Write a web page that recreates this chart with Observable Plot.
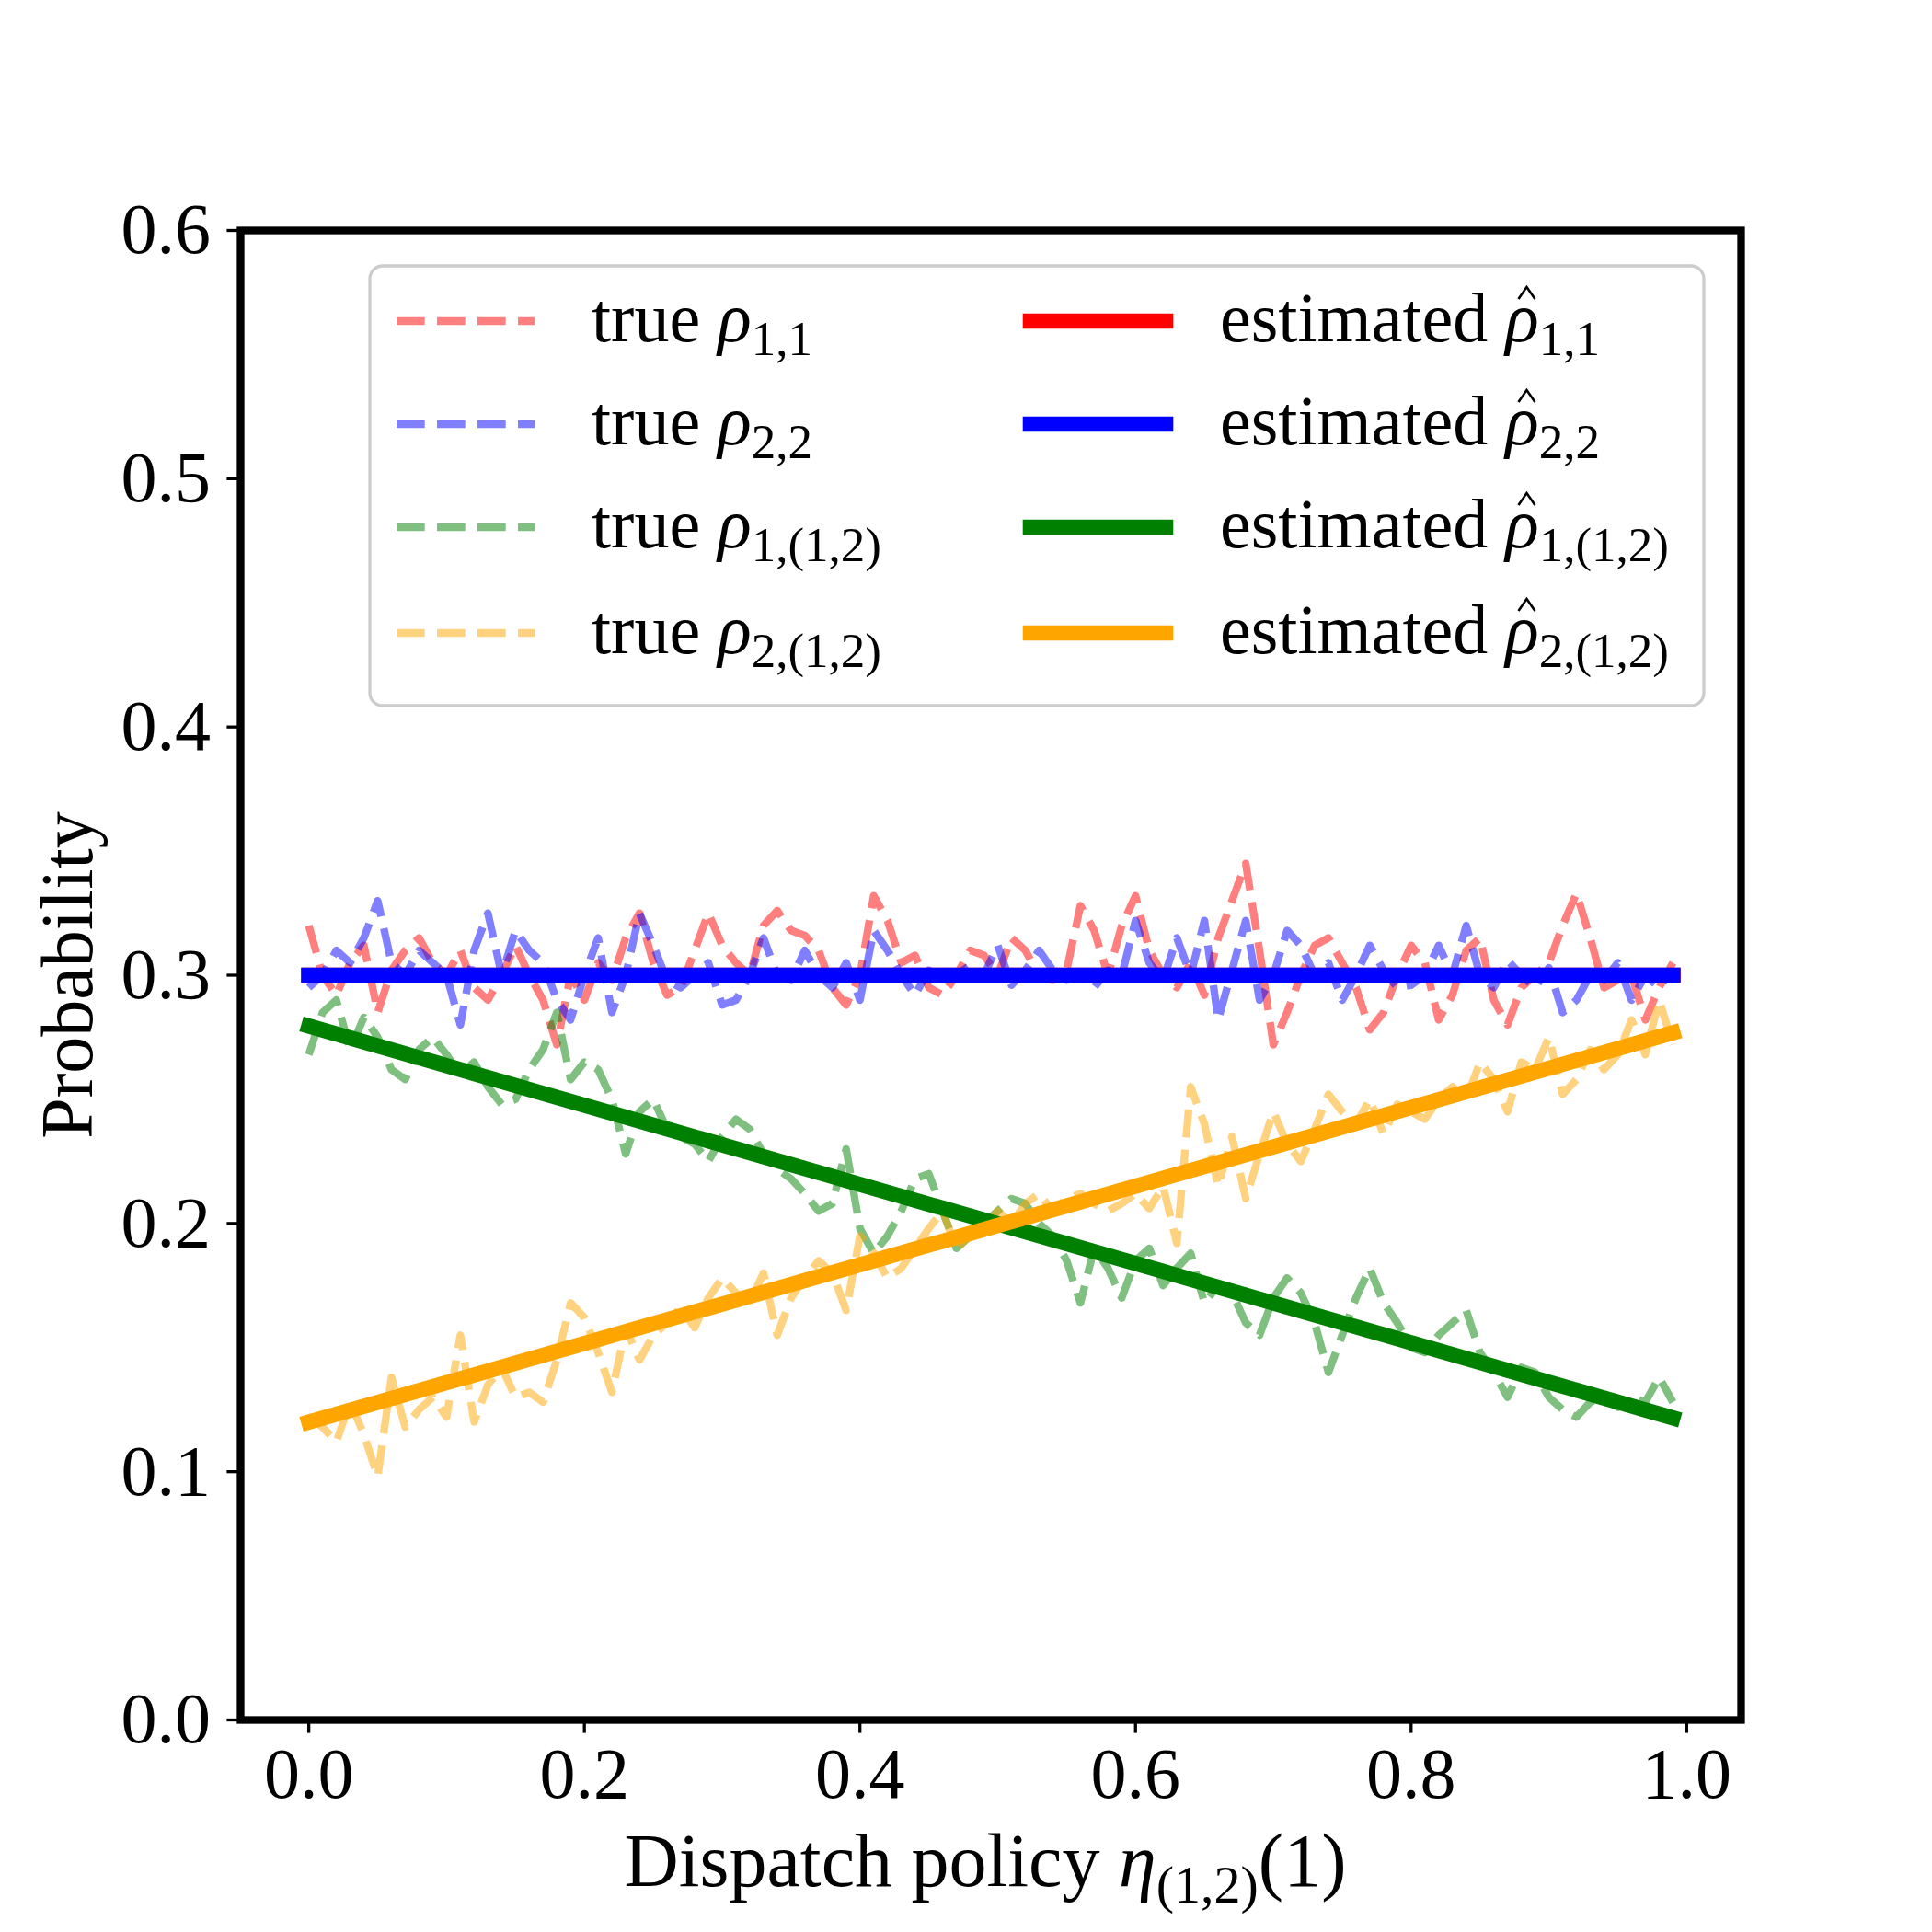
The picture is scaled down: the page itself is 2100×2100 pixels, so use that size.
<!DOCTYPE html>
<html>
<head>
<meta charset="utf-8">
<script src="https://cdn.jsdelivr.net/npm/d3@7"></script>
<script src="https://cdn.jsdelivr.net/npm/@observablehq/plot@0.6"></script>
<style>
  body { margin: 0; background: #fff; }
  #chart svg { display: block; }
</style>
</head>
<body>
<div id="chart"></div>
<script>
// Dispatch policy grid
const policy = [0.00,0.01,0.02,0.03,0.04,0.05,0.06,0.07,0.08,0.09,
  0.10,0.11,0.12,0.13,0.14,0.15,0.16,0.17,0.18,0.19,
  0.20,0.21,0.22,0.23,0.24,0.25,0.26,0.27,0.28,0.29,
  0.30,0.31,0.32,0.33,0.34,0.35,0.36,0.37,0.38,0.39,
  0.40,0.41,0.42,0.43,0.44,0.45,0.46,0.47,0.48,0.49,
  0.50,0.51,0.52,0.53,0.54,0.55,0.56,0.57,0.58,0.59,
  0.60,0.61,0.62,0.63,0.64,0.65,0.66,0.67,0.68,0.69,
  0.70,0.71,0.72,0.73,0.74,0.75,0.76,0.77,0.78,0.79,
  0.80,0.81,0.82,0.83,0.84,0.85,0.86,0.87,0.88,0.89,
  0.90,0.91,0.92,0.93,0.94,0.95,0.96,0.97,0.98,0.99];

// true rho_{1,1}
const trueRho11 = [.320,.300,.292,.305,.312,.285,.302,.310,.315,.305,
  .300,.310,.295,.290,.300,.312,.300,.290,.272,.300,
  .290,.305,.298,.315,.325,.305,.292,.295,.310,.325,
  .312,.305,.300,.320,.326,.318,.316,.310,.295,.288,
  .300,.332,.322,.305,.308,.295,.292,.300,.310,.308,
  .300,.315,.310,.300,.298,.302,.328,.318,.300,.320,
  .332,.310,.300,.295,.305,.292,.315,.330,.345,.310,
  .272,.285,.300,.312,.315,.305,.295,.278,.285,.300,
  .312,.305,.282,.292,.310,.315,.290,.280,.295,.300,
  .305,.320,.333,.315,.295,.298,.300,.282,.295,.305];

// true rho_{2,2}
const trueRho22 = [.295,.300,.310,.305,.315,.330,.305,.300,.310,.305,
  .300,.280,.310,.325,.300,.318,.310,.305,.290,.282,
  .300,.315,.285,.300,.325,.312,.298,.295,.300,.305,
  .288,.290,.300,.315,.300,.298,.310,.300,.295,.305,
  .290,.318,.310,.300,.292,.302,.298,.300,.304,.300,
  .312,.296,.302,.310,.302,.298,.300,.295,.302,.300,
  .322,.305,.298,.315,.300,.322,.282,.302,.322,.290,
  .300,.318,.312,.300,.305,.290,.300,.312,.302,.295,
  .296,.300,.312,.300,.320,.300,.295,.306,.300,.295,
  .303,.285,.290,.300,.298,.305,.290,.300,.295,.302];

// true rho_{1,(1,2)}
const trueRho1_12 = [.268,.285,.290,.270,.283,.275,.262,.258,.270,.275,
  .268,.260,.265,.255,.248,.250,.262,.270,.285,.258,
  .265,.262,.250,.228,.245,.250,.238,.235,.232,.225,
  .235,.242,.238,.228,.222,.218,.212,.205,.208,.230,
  .198,.188,.195,.205,.218,.220,.205,.190,.195,.200,
  .205,.210,.208,.200,.195,.185,.168,.190,.182,.170,
  .185,.190,.175,.182,.188,.168,.175,.172,.160,.155,
  .170,.178,.172,.160,.140,.155,.170,.182,.168,.160,
  .150,.148,.155,.160,.165,.148,.140,.130,.142,.140,
  .130,.125,.122,.128,.130,.126,.130,.128,.138,.128];

// true rho_{2,(1,2)}
const trueRho2_12 = [.122,.118,.112,.128,.115,.098,.138,.118,.125,.130,
  .122,.155,.120,.135,.142,.130,.132,.128,.145,.168,
  .162,.148,.132,.158,.145,.155,.160,.166,.158,.170,
  .178,.172,.168,.180,.155,.170,.178,.185,.180,.165,
  .195,.188,.178,.182,.190,.198,.205,.190,.195,.198,
  .205,.200,.208,.212,.205,.210,.212,.208,.205,.208,
  .212,.206,.215,.192,.255,.240,.215,.235,.210,.228,
  .245,.232,.225,.238,.252,.245,.240,.250,.236,.248,
  .245,.242,.250,.255,.250,.265,.258,.245,.265,.262,
  .275,.252,.258,.270,.262,.268,.282,.268,.290,.272];

// estimated (straight fitted lines, endpoints)
const estPolicy = [0.0, 0.99];
const estRho11 = [0.300, 0.300];
const estRho22 = [0.300, 0.300];
const estRho1_12 = [0.2795, 0.1217];
const estRho2_12 = [0.1200, 0.2768];

const xTicks = [0.0, 0.2, 0.4, 0.6, 0.8, 1.0];
const yTicks = [0.0, 0.1, 0.2, 0.3, 0.4, 0.5, 0.6];

const colors = {r: "#ff0000", b: "#0000ff", g: "#008000", o: "#ffa500"};

const toRows = (xsArr, ys) => xsArr.map((x, i) => ({x, y: ys[i]}));

const FONT = "'Liberation Serif', 'DejaVu Serif', serif";
const DASH_W = 8.3;
const SOLID_W = 16.6;
const DASH = "30.7,13.3";

const trueLine = (ys, c) => Plot.line(toRows(policy, ys), {
  x: "x", y: "y", stroke: c, strokeOpacity: 0.5, strokeWidth: DASH_W,
  strokeDasharray: DASH, strokeLinecap: "butt", strokeLinejoin: "round"
});
const estLine = (ys, c) => Plot.line(toRows(estPolicy, ys), {
  x: "x", y: "y", stroke: c, strokeWidth: SOLID_W,
  strokeLinecap: "square", strokeLinejoin: "round"
});

const plot = Plot.plot({
  width: 2100,
  height: 2100,
  marginLeft: 261,
  marginRight: 208,
  marginTop: 250,
  marginBottom: 231,
  style: {fontFamily: FONT, background: "#ffffff", color: "#000000"},
  x: {domain: [-0.0495, 1.0395]},
  y: {domain: [0, 0.6]},
  marks: [
    trueLine(trueRho11, colors.r),
    trueLine(trueRho22, colors.b),
    trueLine(trueRho1_12, colors.g),
    trueLine(trueRho2_12, colors.o),
    estLine(estRho11, colors.r),
    estLine(estRho22, colors.b),
    estLine(estRho1_12, colors.g),
    estLine(estRho2_12, colors.o),
    Plot.axisX({anchor: "bottom", ticks: xTicks, tickFormat: d => d.toFixed(1),
      tickSize: 14.6, tickPadding: 15, strokeWidth: 3.3, fontSize: 78, label: null}),
    Plot.axisY({anchor: "left", ticks: yTicks, tickFormat: d => d.toFixed(1),
      tickSize: 14.6, tickPadding: 18, strokeWidth: 3.3, fontSize: 78, label: null}),
    Plot.frame({stroke: "#000", strokeWidth: 8.3})
  ]
});

document.getElementById("chart").appendChild(plot);

const svg = d3.select(plot);

// Axis labels
const xl = svg.append("text")
  .attr("x", 1071).attr("y", 2050)
  .attr("text-anchor", "middle")
  .style("font-family", FONT).style("font-size", "82px").attr("fill", "#000");
xl.append("tspan").text("Dispatch policy ");
xl.append("tspan").style("font-style", "italic").text("η");
xl.append("tspan").attr("dy", 18).style("font-size", "58px").text("(1,2)");
xl.append("tspan").attr("dy", -18).text("(1)");

svg.append("text")
  .attr("transform", "translate(100,1060) rotate(-90)")
  .attr("text-anchor", "middle")
  .style("font-family", FONT).style("font-size", "80px").attr("fill", "#000")
  .text("Probability");

// Legend
const leg = svg.append("g");
leg.append("rect")
  .attr("x", 402).attr("y", 289).attr("width", 1450).attr("height", 478)
  .attr("rx", 14).attr("ry", 14)
  .attr("fill", "#ffffff").attr("fill-opacity", 0.8)
  .attr("stroke", "#cccccc").attr("stroke-width", 3.3);

const legendItems = [
  {c: colors.r, sub: "1,1"},
  {c: colors.b, sub: "2,2"},
  {c: colors.g, sub: "1,(1,2)"},
  {c: colors.o, sub: "2,(1,2)"}
];
const rowY = [349, 461, 573, 688];
legendItems.forEach((it, i) => {
  const y = rowY[i];
  leg.append("line").attr("x1", 431).attr("x2", 581).attr("y1", y).attr("y2", y)
    .attr("stroke", it.c).attr("stroke-opacity", 0.5).attr("stroke-width", DASH_W)
    .attr("stroke-dasharray", DASH).attr("stroke-linecap", "butt");
  const t1 = leg.append("text").attr("x", 643).attr("y", y + 22)
    .attr("text-anchor", "start")
    .style("font-family", FONT).style("font-size", "76px").attr("fill", "#000");
  t1.append("tspan").text("true ");
  t1.append("tspan").style("font-style", "italic").text("ρ");
  t1.append("tspan").attr("dy", 15).style("font-size", "53px").text(it.sub);

  leg.append("line").attr("x1", 1120).attr("x2", 1267).attr("y1", y).attr("y2", y)
    .attr("stroke", it.c).attr("stroke-width", SOLID_W).attr("stroke-linecap", "square");
  const t2 = leg.append("text").attr("x", 1326).attr("y", y + 22)
    .attr("text-anchor", "start")
    .style("font-family", FONT).style("font-size", "76px").attr("fill", "#000");
  t2.append("tspan").text("estimated ");
  t2.append("tspan").style("font-style", "italic").text("ρ");
  t2.append("tspan").attr("dy", 15).style("font-size", "53px").text(it.sub);
  // hat accent over rho, drawn as a small path
  let cx = 1326 + 318;
  try {
    const ext = t2.node().getExtentOfChar(10);
    cx = ext.x + ext.width / 2 + 5;
  } catch (e) {}
  const by = y + 22 - 46;
  leg.append("path")
    .attr("d", `M${cx - 9},${by} L${cx},${by - 13} L${cx + 9},${by}`)
    .attr("fill", "none").attr("stroke", "#000").attr("stroke-width", 2.6)
    .attr("stroke-linejoin", "miter");
});
</script>
</body>
</html>
